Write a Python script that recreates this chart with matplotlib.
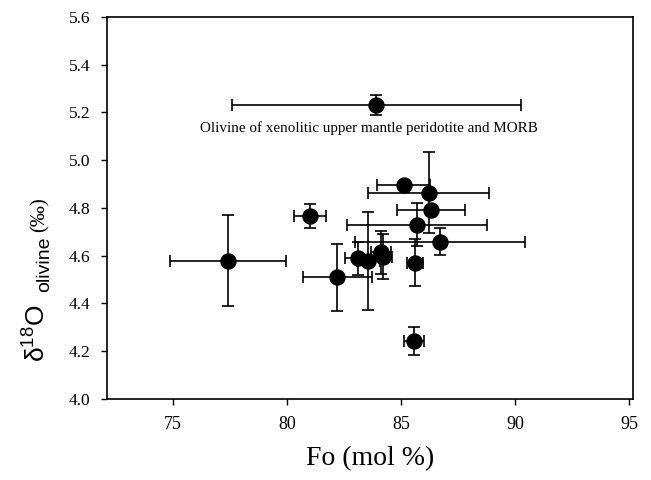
import matplotlib
matplotlib.use("Agg")
import matplotlib.pyplot as plt

# Fo (mol %) and d18O olivine (permil) with 1-sigma error bars
fo = [77.4, 81.0, 82.2, 83.1, 83.55, 84.1, 84.2, 85.1, 86.2, 86.3, 85.7, 86.7, 85.6, 85.55, 83.9]
d18o = [4.578, 4.764, 4.51, 4.589, 4.579, 4.613, 4.595, 4.896, 4.864, 4.789, 4.729, 4.659, 4.571, 4.243, 5.231]
fo_err = [2.55, 0.7, 1.5, 0.58, 0.5, 0.44, 0.4, 1.15, 2.65, 1.5, 3.07, 3.73, 0.35, 0.45, 6.33]
d18o_err = [0.19, 0.05, 0.14, 0.07, 0.205, 0.09, 0.095, 0.0, 0.17, 0.0, 0.09, 0.055, 0.1, 0.06, 0.043]

note = "Olivine of xenolitic upper mantle peridotite and MORB"
note_xy = (83.6, 5.135)

x_ticks = [75, 80, 85, 90, 95]
y_ticks = [4.0, 4.2, 4.4, 4.6, 4.8, 5.0, 5.2, 5.4, 5.6]

serif = "Liberation Serif"
sans = "Liberation Sans"
plt.rcParams["mathtext.fontset"] = "custom"
plt.rcParams["mathtext.rm"] = sans
plt.rcParams["mathtext.it"] = sans

fig = plt.figure(figsize=(6.51, 4.80), dpi=100, facecolor="white")
ax = fig.add_axes([0.1644, 0.169, 0.8076, 0.796])

ax.errorbar(fo, d18o, xerr=fo_err, yerr=d18o_err, fmt="o", color="black",
            markersize=10.8, elinewidth=1.2, capsize=4.5, capthick=1.2, zorder=3)

ax.text(note_xy[0], note_xy[1], note, ha="center", va="center",
        fontsize=10.9, family=serif)

ax.set_xlim(72.1, 95.15)
ax.set_ylim(4.0, 5.6)
ax.set_xticks(x_ticks)
ax.set_yticks(y_ticks)
ax.set_xticklabels([str(t) for t in x_ticks], family=serif, fontsize=13)
ax.set_yticklabels([f"{t:.1f}" for t in y_ticks], family=serif, fontsize=12.5)
ax.tick_params(direction="out", length=4, width=1)
ax.tick_params(axis="x", pad=8)
ax.tick_params(axis="y", pad=8)

for s in ["left", "right", "top", "bottom"]:
    ax.spines[s].set_linewidth(1.2)

ax.set_xlabel("Fo (mol %)", family=serif, fontsize=20, labelpad=10)

# y label built from pieces: symbol, subscript, unit
fig.text(46 / 651, 1 - 362 / 480, r"δ$^{18}$O", rotation=90,
         rotation_mode="anchor", ha="left", va="baseline", fontsize=19, family=sans)
fig.text(49 / 651, 1 - 292 / 480, "olivine", rotation=90,
         rotation_mode="anchor", ha="left", va="baseline", fontsize=14, family=sans)
fig.text(45 / 651, 1 - 232 / 480, "(‰)", rotation=90,
         rotation_mode="anchor", ha="left", va="baseline", fontsize=15, family=serif)

fig.savefig("out.png", dpi=100, facecolor="white")
